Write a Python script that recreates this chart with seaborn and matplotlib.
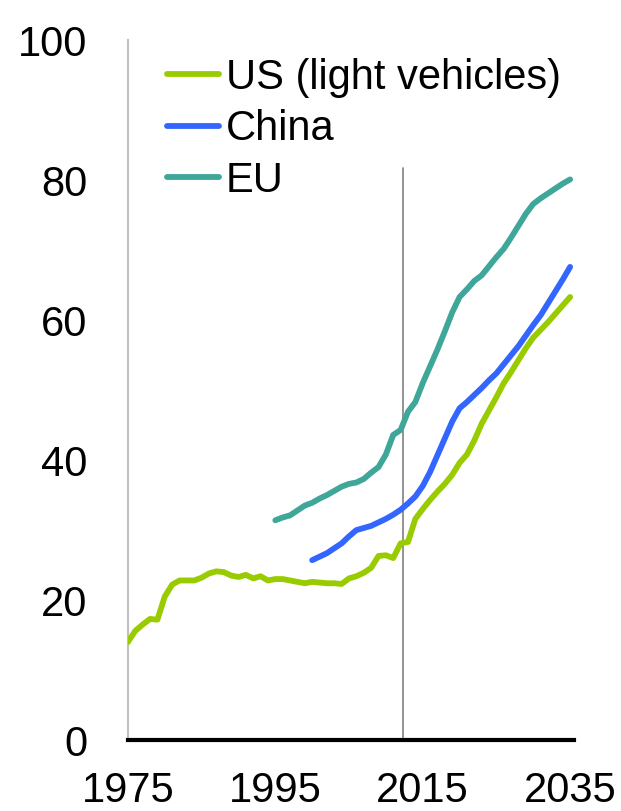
import numpy as np
import pandas as pd
import matplotlib
matplotlib.use("Agg")
import matplotlib.pyplot as plt
import seaborn as sns

# datos
years_us = list(range(1975, 2036))
us = [14.0, 15.6, 16.5, 17.3, 17.2, 20.5, 22.2, 22.8, 22.8, 22.8,
      23.2, 23.8, 24.1, 24.0, 23.5, 23.3, 23.6, 23.1, 23.4, 22.8,
      23.0, 23.0, 22.8, 22.6, 22.4, 22.6, 22.5, 22.4, 22.4, 22.3,
      23.1, 23.4, 23.9, 24.6, 26.3, 26.4, 26.0, 28.1, 28.3, 31.6,
      33.0, 34.3, 35.5, 36.6, 37.9, 39.6, 40.8, 42.8, 45.2, 47.1,
      49.0, 51.0, 52.6, 54.3, 56.0, 57.5, 58.6, 59.7, 60.9, 62.1,
      63.3]

years_cn = list(range(2000, 2036))
china = [25.7, 26.2, 26.7, 27.4, 28.1, 29.1, 30.0, 30.3, 30.6, 31.1,
         31.6, 32.2, 32.9, 33.8, 34.8, 36.3, 38.3, 40.7, 43.1, 45.5,
         47.4, 48.3, 49.3, 50.3, 51.4, 52.4, 53.7, 55.0, 56.3, 57.8,
         59.3, 60.7, 62.4, 64.1, 65.8, 67.6]

years_eu = list(range(1995, 2036))
eu = [31.4, 31.8, 32.1, 32.8, 33.5, 33.9, 34.5, 35.0, 35.6, 36.2,
      36.6, 36.8, 37.3, 38.2, 39.0, 40.8, 43.6, 44.3, 46.9, 48.3,
      51.0, 53.4, 55.8, 58.4, 61.1, 63.3, 64.4, 65.6, 66.4, 67.7,
      69.0, 70.2, 71.8, 73.5, 75.2, 76.6, 77.4, 78.1, 78.8, 79.5,
      80.1]

labels = ["US (light vehicles)", "China", "EU"]
colores = ["#99cc00", "#3366ff", "#3fa69a"]
xticks = [1975, 1995, 2015, 2035]
yticks = [0, 20, 40, 60, 80, 100]
vline_year = 2012.3

df = pd.concat([
    pd.DataFrame({"year": years_us, "value": us, "serie": labels[0]}),
    pd.DataFrame({"year": years_cn, "value": china, "serie": labels[1]}),
    pd.DataFrame({"year": years_eu, "value": eu, "serie": labels[2]}),
])

sns.set_style("white")
plt.rcParams['font.family'] = ['Liberation Sans', 'DejaVu Sans']
plt.rcParams['text.color'] = 'black'

fig = plt.figure(figsize=(6.21, 8.11), dpi=100)
ax = fig.add_axes([0.206, 0.0875, 0.718, 0.863])

ax.axvline(vline_year, ymin=0, ymax=0.817, color="#808080", lw=1.2, zorder=1)

sns.lineplot(data=df, x="year", y="value", hue="serie", palette=colores,
             hue_order=labels, lw=4.2, ax=ax, solid_capstyle="round", zorder=3)

ax.set_xlim(1975, 2035.5)
ax.set_ylim(0, 100)
ax.set_xticks(xticks)
ax.set_yticks(yticks)
ax.set_xlabel("")
ax.set_ylabel("")

for s in ["top", "right"]:
    ax.spines[s].set_visible(False)
ax.spines["left"].set_color("#bfbfbf")
ax.spines["left"].set_linewidth(1.5)
ax.spines["bottom"].set_color("black")
ax.spines["bottom"].set_linewidth(3)

ax.tick_params(axis="y", direction="in", length=9, width=1.5, color="#bfbfbf",
               labelcolor="black", labelsize=30, pad=29)
ax.tick_params(axis="x", length=0, labelcolor="black", labelsize=30, pad=22)

leg = ax.legend(loc="upper left", bbox_to_anchor=(0.087, 0.975), frameon=False,
                fontsize=30, handlelength=1.25, handletextpad=0.17,
                labelspacing=0.28, borderpad=0, borderaxespad=0)
for h in leg.get_lines():
    h.set_linewidth(4.2)

fig.savefig("out.png", dpi=100)
